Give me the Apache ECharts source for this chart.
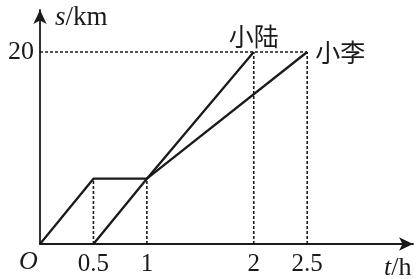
<!DOCTYPE html>
<html>
<head>
<meta charset="utf-8">
<script src="https://cdn.jsdelivr.net/npm/echarts@6/dist/echarts.min.js"></script>
<style>
html,body{margin:0;padding:0;background:#fff;}
#c{width:418px;height:279px;}
</style>
</head>
<body>
<div id="c"></div>
<script>
// Data
const xTicks = [0.5, 1, 2, 2.5];
const yTicks = [20];
const plateau = 6.8;
const luT = [0, 0.5, 1, 2];
const luS = [0, plateau, plateau, 20];
const liT = [0.5, 1, 2.5];
const liS = [0, plateau, 20];
const names = ['小陆', '小李'];

const ink = '#1a1a1a';
const serif = '"Liberation Serif","DejaVu Serif",serif';
const cjk = '"Noto Sans CJK SC",sans-serif';

function pts(ts, ss) { return ts.map((t, i) => [t, ss[i]]); }

const luData = pts(luT, luS).map((p, i, a) => i === a.length - 1 ? {
  value: p, label: { show: true, formatter: names[0], position: 'top', distance: 3,
    fontFamily: cjk, fontSize: 25, color: ink }
} : p);
const liData = pts(liT, liS).map((p, i, a) => i === a.length - 1 ? {
  value: p, label: { show: true, formatter: names[1], position: 'right', distance: 8, offset: [0, -4],
    fontFamily: cjk, fontSize: 25, color: ink }
} : p);

// dashed guide lines
const guides = [
  [[0, 20], [2.5, 20]],
  [[0.5, 0], [0.5, plateau]],
  [[1, 0], [1, plateau]],
  [[2, 0], [2, 20]],
  [[2.5, 0], [2.5, 20]]
];
const guideSeries = guides.map(g => ({
  type: 'line', data: g, symbol: 'none', silent: true, z: 1,
  lineStyle: { color: ink, width: 1.6, type: [3, 2] }
}));

const chart = echarts.init(document.getElementById('c'), null, { renderer: 'canvas' });
chart.setOption({
  animation: false,
  grid: { left: 40, right: 5, top: 10, bottom: 35 },
  xAxis: {
    type: 'value', min: 0, max: 3.49,
    axisLine: { show: true, symbol: ['none', 'arrow'], symbolSize: [10, 14], symbolOffset: [0, 0],
      lineStyle: { color: ink, width: 1.8 } },
    axisTick: { show: false }, splitLine: { show: false },
    axisLabel: { customValues: xTicks, formatter: v => String(v), margin: 8,
      fontFamily: serif, fontSize: 25, color: ink }
  },
  yAxis: {
    type: 'value', min: 0, max: 24.375,
    axisLine: { show: true, symbol: ['none', 'arrow'], symbolSize: [10, 14], symbolOffset: [0, 0],
      lineStyle: { color: ink, width: 1.8 } },
    axisTick: { show: false }, splitLine: { show: false },
    axisLabel: { customValues: yTicks, formatter: v => String(v), margin: 6,
      fontFamily: serif, fontSize: 26, color: ink }
  },
  graphic: [
    { type: 'text', left: 19, top: 249, style: { text: 'O', font: 'italic 26px ' + serif, fill: ink } },
    { type: 'text', left: 55, top: 4, style: { text: '{i|s}/km', font: '27px ' + serif, fill: ink,
      rich: { i: { fontStyle: 'italic', fontFamily: serif, fontSize: 27, fill: ink } } } },
    { type: 'text', left: 384, top: 255, style: { text: '{i|t}/h', font: '26px ' + serif, fill: ink,
      rich: { i: { fontStyle: 'italic', fontFamily: serif, fontSize: 26, fill: ink } } } }
  ],
  series: guideSeries.concat([
    { type: 'line', data: luData, symbol: 'circle', symbolSize: 0, showSymbol: true, z: 3,
      labelLayout: { hideOverlap: false }, emphasis: { disabled: true },
      itemStyle: { color: ink }, lineStyle: { color: ink, width: 2.3 } },
    { type: 'line', data: liData, symbol: 'circle', symbolSize: 0, showSymbol: true, z: 3,
      labelLayout: { hideOverlap: false }, emphasis: { disabled: true },
      itemStyle: { color: ink }, lineStyle: { color: ink, width: 2.3 } }
  ])
});
</script>
</body>
</html>
